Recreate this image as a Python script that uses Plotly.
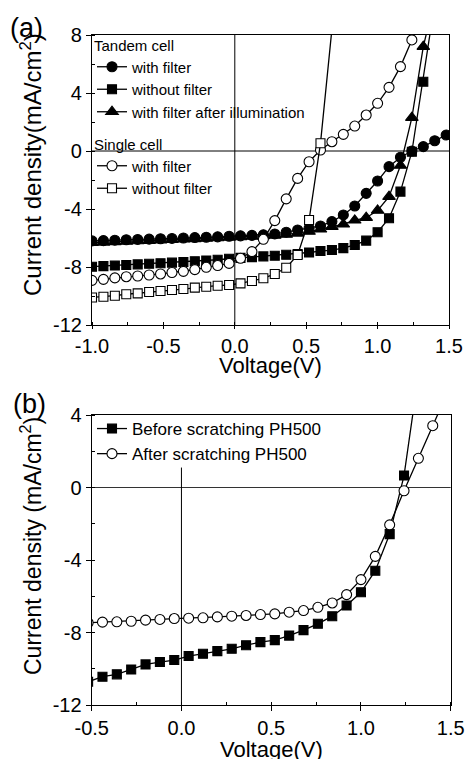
import plotly.graph_objects as go

# ---------------- Panel (a) data ----------------
xa_long = [-1.00, -0.92, -0.84, -0.76, -0.68, -0.60, -0.52, -0.44, -0.36, -0.28,
           -0.20, -0.12, -0.04, 0.04, 0.12, 0.20, 0.28, 0.36, 0.44, 0.52,
           0.60, 0.68, 0.76, 0.84, 0.92, 1.00, 1.08, 1.16, 1.24, 1.32, 1.40, 1.48]
tandem_with_filter = [-6.20, -6.18, -6.15, -6.12, -6.10, -6.08, -6.05, -6.03, -6.00, -5.97,
                      -5.95, -5.92, -5.88, -5.85, -5.82, -5.78, -5.72, -5.60, -5.45, -5.33,
                      -5.17, -4.87, -4.41, -3.79, -2.92, -2.07, -1.08, -0.43, 0.00, 0.30, 0.71, 1.10]

xa_31 = xa_long[:31]
tandem_without_filter = [-7.98, -7.94, -7.90, -7.86, -7.82, -7.78, -7.74, -7.70, -7.65, -7.60,
                         -7.55, -7.50, -7.43, -7.37, -7.32, -7.27, -7.22, -7.16, -7.10, -7.00,
                         -6.90, -6.83, -6.70, -6.48, -6.18, -5.60, -4.64, -2.80, -0.05, 4.78, 10.2]
tandem_after_illum = [-6.32, -6.30, -6.27, -6.24, -6.21, -6.18, -6.15, -6.12, -6.09, -6.06,
                      -6.03, -6.00, -5.96, -5.93, -5.90, -5.86, -5.82, -5.76, -5.68, -5.55,
                      -5.40, -5.22, -5.05, -4.78, -4.60, -4.10, -3.15, -1.00, 2.30, 7.20, 10.5]

xa_30 = xa_long[:30]
single_with_filter = [-8.92, -8.85, -8.75, -8.67, -8.62, -8.55, -8.48, -8.38, -8.30, -8.18,
                      -8.02, -7.90, -7.75, -7.40, -6.94, -6.09, -4.80, -3.30, -1.89, -0.74,
                      0.07, 0.64, 1.15, 1.72, 2.48, 3.29, 4.39, 5.82, 7.66, 9.80]

xa_22 = xa_long[:22]
single_without_filter = [-10.10, -10.05, -9.98, -9.88, -9.82, -9.72, -9.66, -9.59, -9.52, -9.42,
                         -9.36, -9.29, -9.24, -9.13, -8.97, -8.78, -8.48, -8.05, -7.17, -4.76,
                         0.53, 8.40]

# ---------------- Panel (b) data ----------------
xb = [-0.52, -0.44, -0.36, -0.28, -0.20, -0.12, -0.04, 0.04, 0.12, 0.20, 0.28, 0.36,
      0.44, 0.52, 0.60, 0.68, 0.76, 0.84, 0.92, 1.00, 1.08, 1.16, 1.24, 1.32, 1.40, 1.48]
before_scratch = [-10.72, -10.44, -10.31, -10.04, -9.76, -9.63, -9.52, -9.30, -9.17, -9.03,
                  -8.90, -8.70, -8.53, -8.42, -8.17, -7.87, -7.52, -7.10, -6.51, -5.78,
                  -4.59, -2.57, 0.66, 6.20]
after_scratch = [-7.46, -7.43, -7.41, -7.38, -7.32, -7.28, -7.23, -7.21, -7.19, -7.14,
                 -7.10, -7.06, -7.01, -6.97, -6.88, -6.79, -6.61, -6.37, -5.91, -5.08,
                 -3.80, -2.06, -0.18, 1.61, 3.41, 5.20]

# tick labels
xa_ticks = [-1.0, -0.5, 0.0, 0.5, 1.0, 1.5]
xa_ticktext = ["-1.0", "-0.5", "0.0", "0.5", "1.0", "1.5"]
ya_ticks = [-12, -8, -4, 0, 4, 8]
ya_ticktext = ["-12", "-8", "-4", "0", "4", "8"]
xb_ticks = [-0.5, 0.0, 0.5, 1.0, 1.5]
xb_ticktext = ["-0.5", "0.0", "0.5", "1.0", "1.5"]
yb_ticks = [-12, -8, -4, 0, 4]
yb_ticktext = ["-12", "-8", "-4", "0", "4"]

W, H = 467, 759
FONT = "Liberation Sans, Arial, sans-serif"
BLK = "black"

fig = go.Figure()

def add(x, y, name, symbol, filled, size, xaxis, yaxis, legend):
    fig.add_trace(go.Scatter(
        x=x, y=y, name=name, mode="lines+markers",
        line=dict(color=BLK, width=1.3),
        marker=dict(symbol=symbol, size=size, color=BLK if filled else "white",
                    line=dict(color=BLK, width=1.1)),
        xaxis=xaxis, yaxis=yaxis, legend=legend))

add(xa_long, tandem_with_filter, "with filter", "circle", True, 10, "x", "y", "legend")
add(xa_31, tandem_without_filter, "without filter", "square", True, 9, "x", "y", "legend")
add(xa_31, tandem_after_illum, "with filter after illumination", "triangle-up", True, 11, "x", "y", "legend")
add(xa_30, single_with_filter, "with filter", "circle", False, 10, "x", "y", "legend3")
add(xa_22, single_without_filter, "without filter", "square", False, 9, "x", "y", "legend3")

add(xb[:len(before_scratch)], before_scratch, "Before scratching PH500", "square", True, 9, "x2", "y2", "legend2")
add(xb, after_scratch, "After scratching PH500", "circle", False, 10, "x2", "y2", "legend2")

xa_dom = [92 / W, 449 / W]
ya_dom = [1 - 325 / H, 1 - 35 / H]
xb_dom = [91.7 / W, 450.7 / W]
yb_dom = [1 - 705 / H, 1 - 415 / H]

def main_axis(domain, rng, tv, tt, minor_dtick, anchor, ticklen=5):
    return dict(domain=domain, range=rng, anchor=anchor, tickvals=tv, ticktext=tt,
                ticks="outside", ticklen=ticklen, tickwidth=1, tickcolor=BLK,
                minor=dict(dtick=minor_dtick, ticks="inside", ticklen=3, tickcolor=BLK, showgrid=False),
                showline=True, linecolor=BLK, linewidth=1.2, mirror=True,
                showgrid=False, zeroline=False, automargin=False,
                tickfont=dict(size=20, color=BLK, family=FONT))

def overlay_axis(rng, dtick, overlay, anchor, side):
    return dict(range=rng, overlaying=overlay, anchor=anchor, side=side, dtick=dtick,
                ticks="inside", ticklen=3, tickcolor=BLK, showticklabels=False,
                showline=False, showgrid=False, zeroline=False)

def legend_at(top_px, size, title=None):
    d = dict(x=92 / W, y=1 - top_px / H, xanchor="left", yanchor="top",
             bgcolor="rgba(0,0,0,0)", borderwidth=0, tracegroupgap=0,
             font=dict(size=size, color=BLK, family=FONT))
    if title:
        d["title"] = dict(text=title, font=dict(size=size, color=BLK, family=FONT))
    return d

fig.update_layout(
    width=W, height=H,
    margin=dict(l=0, r=0, t=0, b=0),
    paper_bgcolor="white", plot_bgcolor="white",
    font=dict(family=FONT, color=BLK),
    xaxis=main_axis(xa_dom, [-1, 1.5], xa_ticks, xa_ticktext, 0.25, "y", ticklen=3),
    yaxis=main_axis(ya_dom, [-12, 8], ya_ticks, ya_ticktext, 2, "x"),
    xaxis2=main_axis(xb_dom, [-0.5, 1.5], xb_ticks, xb_ticktext, 0.25, "y2"),
    yaxis2=main_axis(yb_dom, [-12, 4], yb_ticks, yb_ticktext, 2, "x2"),
    xaxis3=overlay_axis([-1, 1.5], 0.25, "x", "y", "top"),
    yaxis3=overlay_axis([-12, 8], 2, "y", "x", "right"),
    xaxis4=overlay_axis([-0.5, 1.5], 0.25, "x2", "y2", "top"),
    yaxis4=overlay_axis([-12, 4], 2, "y2", "x2", "right"),
    legend=legend_at(31, 15, "Tandem cell"),
    legend3=legend_at(130, 15, "Single cell"),
    legend2=legend_at(411, 17),
    showlegend=True,
)

# zero lines
fig.add_shape(type="line", xref="x domain", yref="y", x0=0, x1=1, y0=0, y1=0,
              line=dict(color=BLK, width=1), layer="below")
fig.add_shape(type="line", xref="x", yref="y domain", x0=0, x1=0, y0=0, y1=1,
              line=dict(color=BLK, width=1), layer="below")
fig.add_shape(type="line", xref="x2 domain", yref="y2", x0=0, x1=1, y0=0, y1=0,
              line=dict(color="#333333", width=1), layer="below")
fig.add_shape(type="line", xref="x2", yref="y2", x0=0, x1=0, y0=-12, y1=1.1,
              line=dict(color=BLK, width=1), layer="below")

ann = [
    dict(text="(a)", x=26 / W, y=1 - 28 / H, font=dict(size=27)),
    dict(text="(b)", x=29 / W, y=1 - 404 / H, font=dict(size=27)),
    dict(text="Current density(mA/cm<sup>2</sup>)", x=31 / W, y=1 - 165 / H,
         textangle=-90, font=dict(size=24)),
    dict(text="Current density (mA/cm<sup>2</sup>)", x=31 / W, y=1 - 546 / H,
         textangle=-90, font=dict(size=23)),
    dict(text="Voltage(V)", x=270.5 / W, y=1 - 365 / H, font=dict(size=22)),
    dict(text="Voltage(V)", x=271 / W, y=1 - 749 / H, font=dict(size=22)),
]
for a in ann:
    a["font"].update(family=FONT, color=BLK)
    fig.add_annotation(xref="paper", yref="paper", showarrow=False,
                       xanchor="center", yanchor="middle", **a)

fig.write_html("out.html")
